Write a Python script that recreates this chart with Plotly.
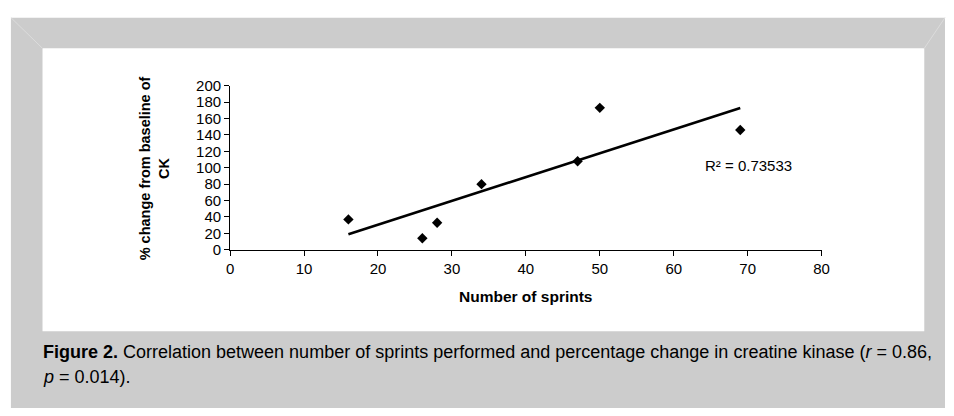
import numpy as np
import plotly.graph_objects as go

# ---- data ----
sprints = [16, 26, 28, 34, 47, 50, 69]
ck_change = [37, 14, 33, 80, 108, 173, 146]
x_ticks = [0, 10, 20, 30, 40, 50, 60, 70, 80]
y_ticks = [0, 20, 40, 60, 80, 100, 120, 140, 160, 180, 200]
r2_text = "R² = 0.73533"
x_title = "Number of sprints"
y_title = "% change from baseline of<br>CK"
caption_line1 = ("<b>Figure 2.</b> Correlation between number of sprints performed and "
                 "percentage change in creatine kinase (<i>r</i> = 0.86,")
caption_line2 = "<i>p</i> = 0.014)."

W, H = 954, 416


def px(v):
    return v / W


def py(v):
    return 1 - v / H


slope, intercept = np.polyfit(sprints, ck_change, 1)
fit_x = [min(sprints), max(sprints)]
fit_y = [slope * v + intercept for v in fit_x]

fig = go.Figure()
fig.add_trace(go.Scatter(x=fit_x, y=fit_y, mode="lines",
                         line=dict(color="black", width=2.6), hoverinfo="skip"))
fig.add_trace(go.Scatter(x=sprints, y=ck_change, mode="markers",
                         marker=dict(symbol="diamond", size=8, color="black")))

font = "Liberation Sans, Arial, Helvetica, sans-serif"

shapes = [
    dict(type="rect", xref="paper", yref="paper", x0=px(7), x1=px(953), y0=py(416), y1=py(9),
         fillcolor="#cccccc", line=dict(width=0), layer="below"),
    dict(type="rect", xref="paper", yref="paper", x0=px(39), x1=px(932), y0=py(336), y1=py(41),
         fillcolor="white", line=dict(width=0), layer="below"),
    dict(type="line", xref="paper", yref="paper", x0=px(7), x1=px(39), y0=py(9), y1=py(41),
         line=dict(color="#dcdcdc", width=1), layer="below"),
    dict(type="line", xref="paper", yref="paper", x0=px(953), x1=px(932), y0=py(9), y1=py(41),
         line=dict(color="#dcdcdc", width=1), layer="below"),
]

annotations = [
    dict(text=r2_text, xref="x", yref="y", x=64, y=103, xanchor="left", yanchor="middle",
         showarrow=False, font=dict(size=15, color="black", family=font)),
    dict(text="<b>" + x_title + "</b>", xref="paper", yref="paper", x=px(528), y=py(300),
         xanchor="center", yanchor="middle", showarrow=False,
         font=dict(size=15.5, color="black", family=font)),
    dict(text="<b>" + y_title.replace("<br>", "</b><br><b>") + "</b>", xref="paper", yref="paper",
         x=px(152), y=py(166), xanchor="center", yanchor="middle", textangle=-90,
         showarrow=False, font=dict(size=14.5, color="black", family=font)),
    dict(text=caption_line1, xref="paper", yref="paper", x=px(37), y=py(358), xanchor="left",
         yanchor="middle", align="left", showarrow=False,
         font=dict(size=18, color="black", family=font)),
    dict(text=caption_line2, xref="paper", yref="paper", x=px(37), y=py(384), xanchor="left",
         yanchor="middle", align="left", showarrow=False,
         font=dict(size=18, color="black", family=font)),
]

fig.update_layout(
    width=W, height=H,
    margin=dict(l=0, r=0, t=0, b=0),
    paper_bgcolor="white", plot_bgcolor="rgba(0,0,0,0)",
    showlegend=False,
    shapes=shapes, annotations=annotations,
    font=dict(family=font, color="black"),
    xaxis=dict(domain=[px(229), px(828)], range=[0, 80], tickvals=x_ticks,
               showgrid=False, zeroline=False, showline=True, linecolor="black", linewidth=1,
               ticks="outside", ticklen=5, tickcolor="black", tickfont=dict(size=15)),
    yaxis=dict(domain=[py(251), py(80)], range=[0, 200], tickvals=y_ticks,
               showgrid=False, zeroline=False, showline=True, linecolor="black", linewidth=1,
               ticks="outside", ticklen=5, tickcolor="black", tickfont=dict(size=15)),
)

fig.write_html("out.html", config={"displayModeBar": False},
               post_script="document.body.style.margin='0px';document.body.style.overflow='hidden';")
